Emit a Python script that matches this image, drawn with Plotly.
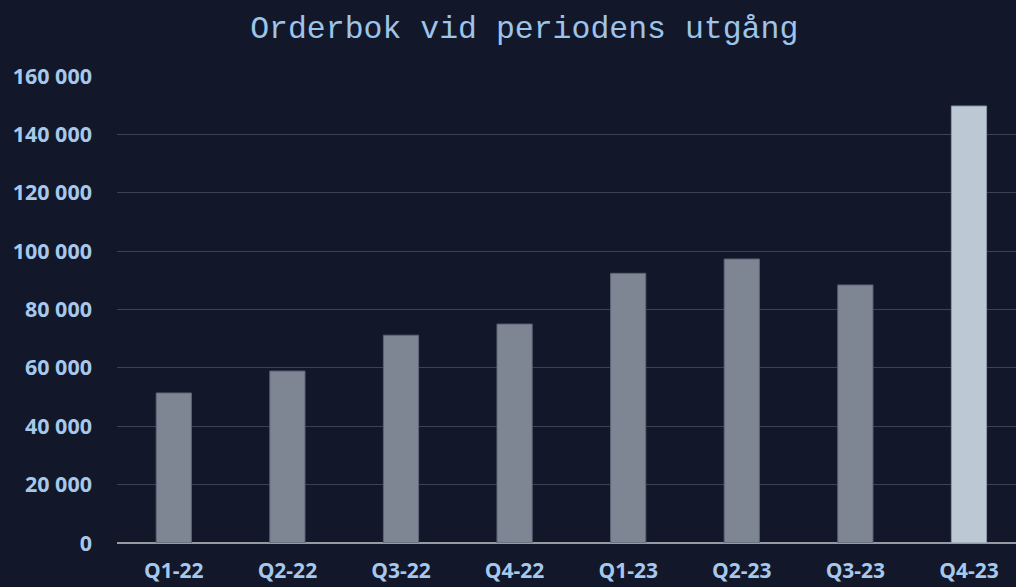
import plotly.graph_objects as go

categories = ["Q1-22", "Q2-22", "Q3-22", "Q4-22", "Q1-23", "Q2-23", "Q3-23", "Q4-23"]
values = [51400, 58900, 71200, 75000, 92400, 97300, 88400, 149700]
tick_vals = [0, 20000, 40000, 60000, 80000, 100000, 120000, 140000, 160000]

colors = ["#7e8694"] * 7 + ["#bcc8d4"]
line_colors = ["#5d6575"] * 7 + ["#8f9aa8"]

fig = go.Figure(go.Bar(
    x=categories, y=values,
    marker=dict(color=colors, line=dict(color=line_colors, width=1)),
    width=0.31,
))

fig.update_layout(
    width=1016, height=587,
    paper_bgcolor="#121729", plot_bgcolor="#121729",
    margin=dict(l=117, r=0, t=76, b=44),
    separators=", ",
    showlegend=False,
    title=dict(text="Orderbok vid periodens utgång", x=0.516, xanchor="center",
               y=1 - 27 / 587, yanchor="middle", yref="container",
               font=dict(family="Liberation Mono", size=31.5, color="#9dc4ea")),
    font=dict(family="Open Sans", color="#a6c8ec"),
)
fig.update_xaxes(range=[-0.5, 7.414], showgrid=False, showline=False, automargin=False,
                 tickfont=dict(family="Open Sans", size=21, color="#a6c8ec", weight="bold"),
                 ticks="", ticklabelstandoff=13)
fig.update_yaxes(range=[0, 160000], tickvals=tick_vals, tickformat=",d", automargin=False,
                 showgrid=True, gridcolor="#3d4250", gridwidth=1,
                 zeroline=True, zerolinecolor="#959aa3", zerolinewidth=2,
                 tickfont=dict(family="Open Sans", size=21.5, color="#a6c8ec", weight="bold"),
                 ticks="", ticklabelstandoff=24)

fig.write_html("out.html", config={"displayModeBar": False},
               post_script="document.body.style.margin='0';")
